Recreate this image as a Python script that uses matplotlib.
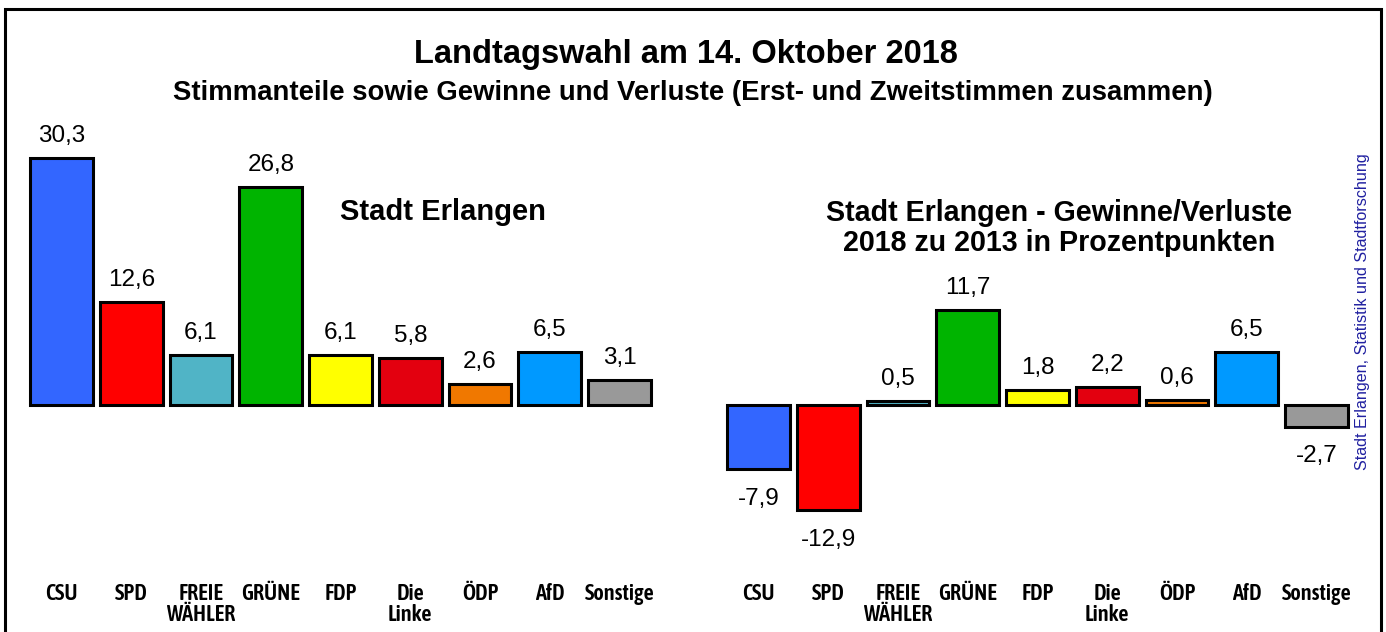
import matplotlib.pyplot as plt
from matplotlib.patches import Rectangle
import matplotlib.transforms as mtransforms

# Datos
parteien = ['CSU', 'SPD', 'FREIE\nWÄHLER', 'GRÜNE', 'FDP', 'Die\nLinke', 'ÖDP', 'AfD', 'Sonstige']
anteile = [30.3, 12.6, 6.1, 26.8, 6.1, 5.8, 2.6, 6.5, 3.1]
diff = [-7.9, -12.9, 0.5, 11.7, 1.8, 2.2, 0.6, 6.5, -2.7]
farben = ['#3366FF', '#FF0000', '#50B4C6', '#00B400', '#FFFF00', '#E3000F', '#F07800', '#0099FF', '#999999']

narrow = ['Asap Condensed', 'Liberation Sans Narrow', 'Liberation Sans', 'DejaVu Sans']
arial = ['Liberation Sans', 'DejaVu Sans']

W, H = 1386, 632
fig = plt.figure(figsize=(W / 100, H / 100), dpi=100)

# Skala: 0 liegt bei 405 px von oben, 8.15 px pro Prozentpunkt
px = 8.15
ytop = 405 / px
ybot = -(H - 405) / px
step = 69.75


def panel(x0, werte, titel, tx, ty, tsize):
    left = x0 - step / 2
    ax = fig.add_axes([left / W, 0, 9 * step / W, 1])
    ax.set_xlim(-0.5, 8.5)
    ax.set_ylim(ybot, ytop)
    ax.axis('off')
    xs = list(range(len(werte)))
    ax.bar(xs, werte, width=0.9, color=farben, edgecolor='black', linewidth=2.2, zorder=3)
    for x, v in zip(xs, werte):
        txt = ('%.1f' % v).replace('.', ',')
        off = 11.5 if v >= 0 else -25.5
        ax.annotate(txt, (x, v), xytext=(0, off), textcoords='offset points',
                    ha='center', va='baseline', fontsize=17.5, family=arial)
    trans = mtransforms.blended_transform_factory(ax.transData, fig.transFigure)
    for x, p in zip(xs, parteien):
        ax.text(x, 1 - 583 / H, p, transform=trans, ha='center', va='top',
                fontsize=16, fontweight=600, family=narrow, linespacing=0.95)
    fig.text(tx / W, 1 - ty / H, titel, ha='center', va='center', fontsize=tsize,
             fontweight='bold', family=arial, linespacing=1.1)
    return ax


panel(61.5, anteile, 'Stadt Erlangen', 443, 212, 21)
panel(758.5, diff, 'Stadt Erlangen - Gewinne/Verluste\n2018 zu 2013 in Prozentpunkten', 1059, 228, 20.6)

fig.text(686 / W, 1 - 55 / H, 'Landtagswahl am 14. Oktober 2018', ha='center', va='center',
         fontsize=23.5, fontweight='bold', family=arial)
fig.text(693 / W, 1 - 93 / H, 'Stimmanteile sowie Gewinne und Verluste (Erst- und Zweitstimmen zusammen)',
         ha='center', va='center', fontsize=19.8, fontweight='bold', family=arial)
fig.text(1363 / W, 1 - 312 / H, 'Stadt Erlangen, Statistik und Stadtforschung', rotation=90,
         ha='center', va='center', fontsize=11.6, color='#2020A0', family=arial)

# Rahmen
fig.patches.append(Rectangle((5 / W, -0.05), 1376 / W, 1.05 - 9 / H, transform=fig.transFigure,
                             fill=False, edgecolor='black', linewidth=2.2))

fig.savefig('out.png', dpi=100)
